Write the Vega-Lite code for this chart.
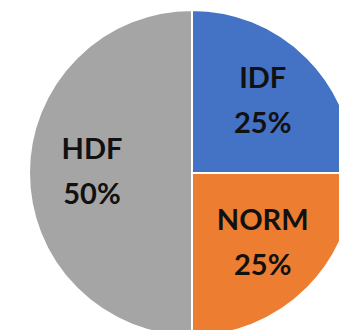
{
  "$schema": "https://vega.github.io/schema/vega-lite/v6.json",
  "width": 384,
  "height": 346,
  "autosize": "none",
  "padding": 0,
  "background": "white",
  "view": {"stroke": null},
  "data": {
    "values": [
      {"category": "IDF", "value": 25, "order": 1, "label": "IDF\n25%"},
      {"category": "NORM", "value": 25, "order": 2, "label": "NORM\n25%"},
      {"category": "HDF", "value": 50, "order": 3, "label": "HDF\n50%"}
    ]
  },
  "encoding": {
    "theta": {"field": "value", "type": "quantitative", "stack": true},
    "order": {"field": "order", "type": "quantitative"}
  },
  "layer": [
    {
      "mark": {"type": "arc", "outerRadius": 163, "stroke": "white", "strokeWidth": 2},
      "encoding": {
        "color": {
          "field": "category",
          "type": "nominal",
          "scale": {"domain": ["IDF", "NORM", "HDF"], "range": ["#4472C4", "#ED7D31", "#A5A5A5"]},
          "legend": null
        }
      }
    },
    {
      "mark": {
        "type": "text",
        "radius": 100,
        "dy": -23,
        "font": "Lato",
        "fontSize": 29,
        "fontWeight": "bold",
        "lineBreak": "\n",
        "lineHeight": 45,
        "baseline": "middle",
        "align": "center",
        "fill": "#111111"
      },
      "encoding": {
        "text": {"field": "label", "type": "nominal"}
      }
    }
  ]
}
